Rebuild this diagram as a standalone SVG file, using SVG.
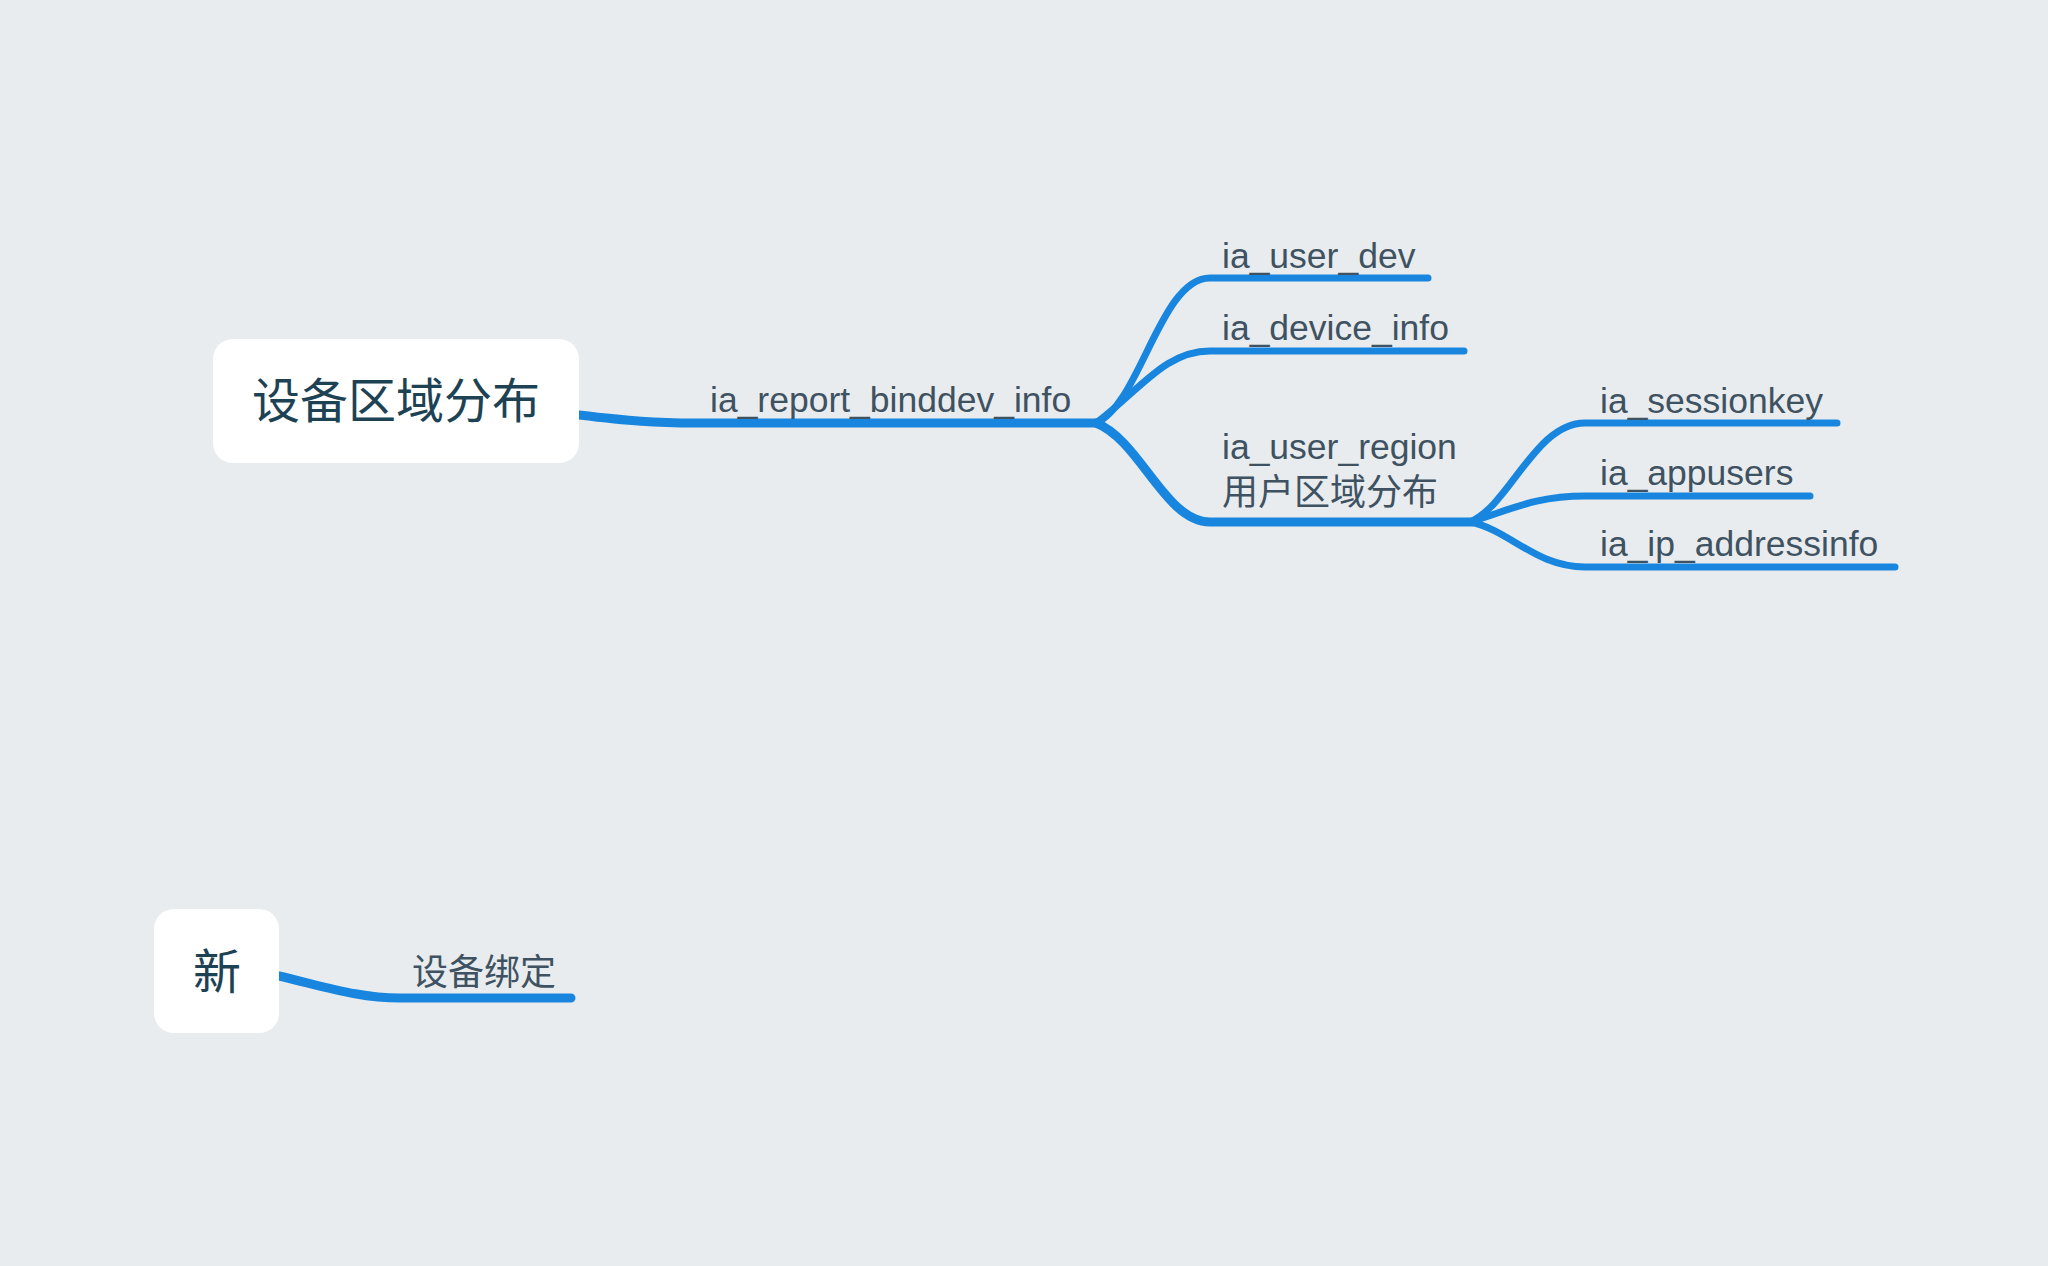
<svg xmlns="http://www.w3.org/2000/svg" width="2048" height="1266" viewBox="0 0 2048 1266">
<style>
.bg{fill:#E8ECEF}
.node rect{fill:#FFFFFF}
.root{font-family:"Noto Sans CJK SC",sans-serif;font-size:48px;fill:#1D4254;text-anchor:middle}
.lbl{font-family:"Liberation Sans","Noto Sans CJK SC",sans-serif;font-size:35.5px;fill:#3F5261}
.cjk{font-family:"Noto Sans CJK SC",sans-serif;font-size:36px;fill:#3F5261}
.c{fill:none;stroke:#1886DE;stroke-linecap:round;stroke-linejoin:round}
.w1{stroke-width:9}
.w2{stroke-width:7}
</style>
<rect class="bg" x="0" y="0" width="2048" height="1266"/>
<g id="connectors">
<path class="c w1" d="M 579 415 C 630 421 655 423 695 423 L 1098 423"/>
<path class="c w2" d="M 1096 423 C 1140 405 1160 278 1210 278 L 1428 278"/>
<path class="c w2" d="M 1096 423 C 1140 390 1165 351 1210 351 L 1464 351"/>
<path class="c w1" d="M 1096 423 C 1140 440 1165 522 1210 522 L 1472 522"/>
<path class="c w2" d="M 1470 522 C 1510 505 1535 423 1585 423 L 1837 423"/>
<path class="c w2" d="M 1470 522 C 1510 510 1535 496 1585 496 L 1810 496"/>
<path class="c w2" d="M 1470 522 C 1510 530 1535 567 1585 567 L 1895 567"/>
<path class="c w1" d="M 279 976 C 330 988 360 998 400 998 L 571 998"/>
</g>
<g id="node-root1" class="node">
<rect x="213" y="339" width="366" height="124" rx="20"/>
<text class="root" x="396" y="418">设备区域分布</text>
</g>
<g id="node-binddev">
<text class="lbl" x="710" y="412">ia_report_binddev_info</text>
</g>
<g id="node-user-dev">
<text class="lbl" x="1222" y="268">ia_user_dev</text>
</g>
<g id="node-device-info">
<text class="lbl" x="1222" y="340">ia_device_info</text>
</g>
<g id="node-user-region">
<text class="lbl" x="1222" y="459">ia_user_region</text>
<text class="cjk" x="1222" y="505">用户区域分布</text>
</g>
<g id="node-sessionkey">
<text class="lbl" x="1600" y="413">ia_sessionkey</text>
</g>
<g id="node-appusers">
<text class="lbl" x="1600" y="485">ia_appusers</text>
</g>
<g id="node-ip">
<text class="lbl" x="1600" y="556">ia_ip_addressinfo</text>
</g>
<g id="node-root2" class="node">
<rect x="154" y="909" width="125" height="124" rx="20"/>
<text class="root" x="217" y="989">新</text>
</g>
<g id="node-bind">
<text class="cjk" x="412" y="985">设备绑定</text>
</g>
</svg>
